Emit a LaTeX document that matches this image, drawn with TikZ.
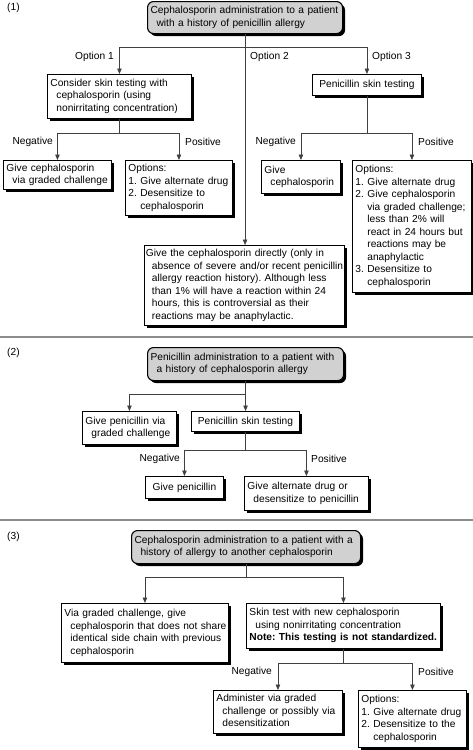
\documentclass[tikz,border=0pt]{standalone}
\usepackage{fontspec}
\setmainfont{Liberation Sans}
\usetikzlibrary{arrows.meta,shadows}
\newcommand{\tb}[1]{\begin{tabular}{@{}l@{}}#1\end{tabular}}
\newcommand{\hi}{\hspace*{6pt}}
\newcommand{\li}{\hphantom{2. }}
\begin{document}
\frenchspacing
\begin{tikzpicture}[x=1pt,y=1pt,
  every node/.style={font=\fontsize{10.2}{12.5}\selectfont\frenchspacing, inner sep=0pt},
  box/.style={draw, fill=white, line width=0.9pt, inner xsep=3pt, inner ysep=2pt, align=left, anchor=north west,
    drop shadow={shadow xshift=2.5pt,shadow yshift=-2.5pt,fill=black,opacity=1}},
  cbox/.style={box, align=center},
  head/.style={box, rounded corners=6pt, fill=black!18, line width=1.1pt},
  conn/.style={draw=black!75, line width=0.75pt},
  arr/.style={conn, -{Triangle[length=5.5pt,width=4.5pt]}},
  sep/.style={draw=black!45, line width=1.6pt}]
\useasboundingbox (0,0) rectangle (473,-750);

% ---------- Section 1 ----------
\node[anchor=west] (s1) at (7,-8) {(1)};
\node[head, text width=189pt, minimum height=32pt] (t1) at (147,-1)
  {\tb{Cephalosporin administration to a patient\\\hi with a history of penicillin allergy}};
\node[box, text width=138pt, minimum height=44pt] (o1) at (47,-74)
  {\tb{Consider skin testing with\\\hi cephalosporin (using\\\hi nonirritating concentration)}};
\node[cbox, text width=103pt, minimum height=21pt] (o3) at (312,-74) {Penicillin skin testing};
\node[box, text width=102pt, minimum height=29pt] (n1) at (3,-160)
  {\tb{Give cephalosporin\\\hi via graded challenge}};
\node[box, text width=101pt, minimum height=55pt] (p1) at (125,-160)
  {\tb{Options:\\1. Give alternate drug\\2. Desensitize to\\\li cephalosporin}};
\node[box, text width=73pt, minimum height=33pt] (n3) at (261,-160)
  {\tb{Give\\\hi cephalosporin}};
\node[box, text width=113pt, minimum height=132pt] (p3) at (352,-160)
  {\tb{Options:\\1. Give alternate drug\\2. Give cephalosporin\\\li via graded challenge;\\\li less than 2\% will\\\li react in 24 hours but\\\li reactions may be\\\li anaphylactic\\3. Desensitize to\\\li cephalosporin}};
\node[box, inner xsep=1.5pt, text width=197pt, minimum height=80pt] (c1) at (144,-245)
  {\tb{Give the cephalosporin directly (only in\\\hi absence of severe and/or recent penicillin\\\hi allergy reaction history). Although less\\\hi than 1\% will have a reaction within 24\\\hi hours, this is controversial as their\\\hi reactions may be anaphylactic.}};

\path (t1.south) ++(0,-13) coordinate (b1);
\draw[conn] (t1.south) -- (b1);
\draw[arr] (b1) -| (o1.north);
\draw[arr] (b1) -| (o3.north);
\draw[arr] (t1.south) -- (t1.south |- c1.north);
\node[anchor=east] (lo1) at (114,-57) {Option 1};
\node[anchor=west] (lo2) at (250,-57) {Option 2};
\node[anchor=west] (lo3) at (372,-57) {Option 3};

\path (o1.south) ++(0,-14) coordinate (b2);
\draw[conn] (o1.south) -- (b2);
\draw[arr] (b2) -| (n1.north);
\draw[arr] (b2) -| (p1.north);
\node[anchor=east] (ln1) at (53,-142) {Negative};
\node[anchor=west] (lp1) at (185,-142) {Positive};

\path (o3.south) ++(0,-37) coordinate (b3);
\draw[conn] (o3.south) -- (b3);
\draw[arr] (b3) -| (n3.north);
\draw[arr] (b3) -| (p3.north);
\node[anchor=east] (ln3) at (296,-142) {Negative};
\node[anchor=west] (lp3) at (418,-142) {Positive};

\draw[sep] (0,-337) -- (473,-337);

% ---------- Section 2 ----------
\node[anchor=west] (s2) at (7,-353) {(2)};
\node[head, text width=190pt, minimum height=33pt] (t2) at (147,-347)
  {\tb{Penicillin administration to a patient with\\\hi a history of cephalosporin allergy}};
\node[box, text width=88pt, minimum height=33pt] (l2) at (82,-411)
  {\tb{Give penicillin via\\\hi graded challenge}};
\node[cbox, text width=102pt, minimum height=20pt] (k2) at (191,-411) {Penicillin skin testing};
\node[cbox, text width=72pt, minimum height=22pt] (n2) at (145,-476) {Give penicillin};
\node[box, text width=118pt, minimum height=34pt] (p2) at (244,-476)
  {\tb{Give alternate drug or\\\hi desensitize to penicillin}};

\path (t2.south) ++(0,-13) coordinate (b4);
\draw[conn] (t2.south) -- (b4);
\draw[arr] (b4) -| (l2.north);
\draw[arr] (t2.south) -- (t2.south |- k2.north);
\path (k2.south) ++(0,-18) coordinate (b5);
\draw[conn] (k2.south) -- (b5);
\draw[arr] (b5) -| (n2.north);
\draw[arr] (b5) -| (p2.north);
\node[anchor=east] (ln2) at (180,-459) {Negative};
\node[anchor=west] (lp2) at (311,-459) {Positive};

\draw[sep] (0,-520) -- (473,-520);

% ---------- Section 3 ----------
\node[anchor=west] (s3) at (7,-537) {(3)};
\node[head, text width=223pt, minimum height=33pt] (t3) at (131,-530)
  {\tb{Cephalosporin administration to a patient with a\\\hi history of allergy to another cephalosporin}};
\node[box, text width=161pt, minimum height=59pt] (l3) at (61,-603)
  {\tb{Via graded challenge, give\\\hi cephalosporin that does not share\\\hi identical side chain with previous\\\hi cephalosporin}};
\node[box, text width=188pt, minimum height=45pt] (r3) at (246,-603)
  {\tb{Skin test with new cephalosporin\\\hi using nonirritating concentration\\\textbf{Note: This testing is not standardized.}}};
\node[box, text width=123pt, minimum height=43pt] (a3) at (213,-690)
  {\tb{Administer via graded\\\hi challenge or possibly via\\\hi desensitization}};
\node[box, text width=102pt, minimum height=57pt] (q3) at (358,-690)
  {\tb{Options:\\1. Give alternate drug\\2. Desensitize to the\\\li cephalosporin}};

\path (t3.south) ++(0,-13) coordinate (b6);
\draw[conn] (t3.south) -- (b6);
\draw[arr] (b6) -| (l3.north);
\draw[arr] (b6) -| (r3.north);
\path (r3.south) ++(0,-14) coordinate (b7);
\draw[conn] (r3.south) -- (b7);
\draw[arr] (b7) -| (a3.north);
\draw[arr] (b7) -| (q3.north);
\node[anchor=east] (ln4) at (272,-672) {Negative};
\node[anchor=west] (lp4) at (418,-672) {Positive};
\end{tikzpicture}
\end{document}
